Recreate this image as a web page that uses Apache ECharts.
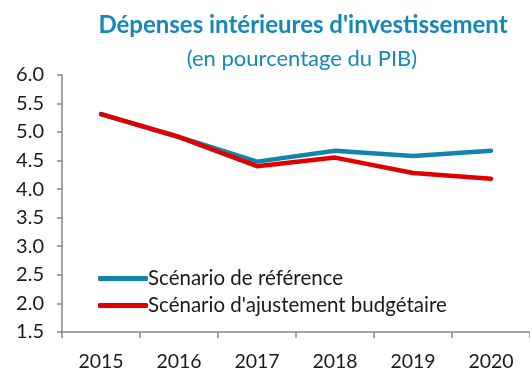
<!DOCTYPE html>
<html>
<head>
<meta charset="utf-8">
<script src="https://cdn.jsdelivr.net/npm/echarts@6/dist/echarts.min.js"></script>
<style>
  html, body { margin: 0; padding: 0; background: #fff; }
  #chart { width: 530px; height: 372px; }
</style>
</head>
<body>
<div id="chart"></div>
<script>
// Investment spending as a share of GDP, two fiscal scenarios
const years = ['2015', '2016', '2017', '2018', '2019', '2020'];
const scenarioReference = [5.31, 4.91, 4.48, 4.67, 4.58, 4.67];
const scenarioAdjustment = [5.31, 4.91, 4.40, 4.55, 4.28, 4.18];
const seriesNames = ['Scénario de référence', "Scénario d'ajustement budgétaire"];
const titleText = "Dépenses intérieures d'investissement";
const subtitleText = '(en pourcentage du PIB)';

const FONT = 'Lato';
const TITLE_COLOR = '#1588b8';
const BLUE = '#1283ad';
const RED = '#e00000';
const AXIS = '#868686';

const chart = echarts.init(document.getElementById('chart'), null, { renderer: 'canvas' });
chart.setOption({
  backgroundColor: '#fff',
  animation: false,
  title: [
    {
      text: titleText,
      left: 298, top: 8, textAlign: 'center',
      textStyle: { fontFamily: FONT, fontSize: 24, fontWeight: 'bold', color: TITLE_COLOR }
    },
    {
      text: subtitleText,
      left: 297, top: 43, textAlign: 'center',
      textStyle: { fontFamily: FONT, fontSize: 22, fontWeight: 'normal', color: TITLE_COLOR }
    }
  ],
  legend: {
    orient: 'vertical',
    left: 93, top: 263,
    itemWidth: 50, itemHeight: 5, itemGap: 6,
    icon: 'roundRect',
    textStyle: { fontFamily: FONT, fontSize: 20.5, color: '#1a1a1a', padding: [0, 0, 0, -5] },
    data: seriesNames
  },
  grid: { left: 62, right: -11, top: 74.7, bottom: 40, containLabel: false },
  xAxis: {
    type: 'category',
    data: years,
    boundaryGap: true,
    axisLine: { lineStyle: { color: AXIS, width: 1.5 } },
    axisTick: { show: true, length: 6, lineStyle: { color: AXIS, width: 1.5 } },
    axisLabel: { fontFamily: FONT, fontSize: 19.5, color: '#1a1a1a', margin: 20 },
    splitLine: { show: false }
  },
  yAxis: {
    type: 'value',
    min: 1.5, max: 6.0, interval: 0.5,
    axisLine: { show: true, lineStyle: { color: AXIS, width: 1.5 } },
    axisTick: { show: true, length: 5, lineStyle: { color: AXIS, width: 1.5 } },
    axisLabel: {
      fontFamily: FONT, fontSize: 20, color: '#1a1a1a', margin: 18,
      formatter: v => v.toFixed(1)
    },
    splitLine: { show: false }
  },
  series: [
    {
      name: seriesNames[0], type: 'line', data: scenarioReference,
      symbol: 'none', smooth: false,
      lineStyle: { color: BLUE, width: 4.5, cap: 'round', join: 'round' },
      itemStyle: { color: BLUE }, z: 2
    },
    {
      name: seriesNames[1], type: 'line', data: scenarioAdjustment,
      symbol: 'none', smooth: false,
      lineStyle: { color: RED, width: 4.5, cap: 'round', join: 'round' },
      itemStyle: { color: RED }, z: 3
    }
  ]
});
</script>
</body>
</html>
